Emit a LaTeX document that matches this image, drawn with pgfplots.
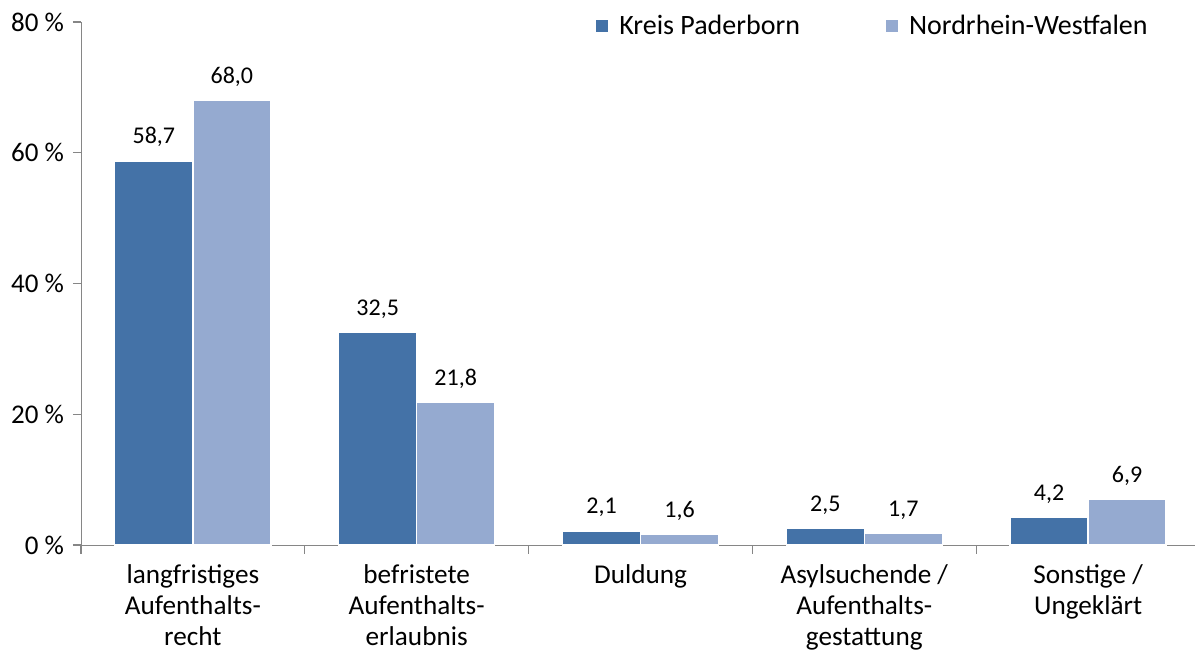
\documentclass[border=0pt]{standalone}
\usepackage{pgfplots}
\pgfplotsset{compat=1.18}
\usepackage{fontspec}
\setmainfont{Carlito}
\definecolor{darkb}{RGB}{68,114,167}
\definecolor{lightb}{RGB}{149,170,208}
\definecolor{axgray}{RGB}{134,134,134}
\begin{document}
\begin{tikzpicture}
\useasboundingbox (0,0) rectangle (597.5pt,326.5pt);
\begin{axis}[
  at={(40.5pt,54pt)}, anchor=south west,
  scale only axis, width=559.5pt, height=261.5pt,
  ybar=0pt, bar width=39pt,
  xmin=-0.5, xmax=4.5, ymin=0, ymax=80,
  axis x line*=bottom, axis y line*=left,
  axis line style={axgray,-},
  ytick={0,20,40,60,80},
  yticklabel={\pgfmathprintnumber{\tick}~\%},
  tick style={axgray, line width=0.6pt},
  tick align=outside,
  major tick length=4pt,
  xtick={0,1,2,3,4},
  xticklabels={{langfristiges\\Aufenthalts-\\recht},{befristete\\Aufenthalts-\\erlaubnis},{Duldung},{Asylsuchende /\\Aufenthalts-\\gestattung},{Sonstige /\\Ungeklärt}},
  x tick style={draw=none},
  minor xtick={-0.5,0.5,1.5,2.5,3.5,4.5},
  minor x tick style={axgray, line width=0.6pt, draw=axgray},
  minor tick length=4.5pt,
  xticklabel style={align=center, font=\fontsize{13.6}{15.4}\selectfont, yshift=-2.5pt},
  yticklabel style={font=\fontsize{13.5}{15}\selectfont, xshift=-1pt},
  /pgf/number format/assume math mode=true,
  nodes near coords={\pgfmathprintnumber[fixed,fixed zerofill,precision=1,use comma]{\pgfplotspointmeta}},
  every node near coord/.append style={font=\fontsize{12}{14}\selectfont, yshift=3.5pt, text=black},
  legend columns=2,
  legend style={draw=none, fill=none, at={(0.9625,0.992)}, anchor=east, font=\fontsize{14}{16}\selectfont,
    /tikz/every even column/.append style={column sep=41pt},
    /tikz/every odd column/.append style={column sep=3.5pt}},
  legend image code/.code={\fill[#1,draw=none] (0pt,-3pt) rectangle (6pt,3pt);},
  clip=false,
]
\addplot[fill=darkb, draw=white, line width=0.6pt] coordinates {(0,58.7) (1,32.5) (2,2.1) (3,2.5) (4,4.2)};
\addplot[fill=lightb, draw=white, line width=0.6pt] coordinates {(0,68.0) (1,21.8) (2,1.6) (3,1.7) (4,6.9)};
\legend{Kreis Paderborn, Nordrhein-Westfalen}
\end{axis}
\end{tikzpicture}
\end{document}
